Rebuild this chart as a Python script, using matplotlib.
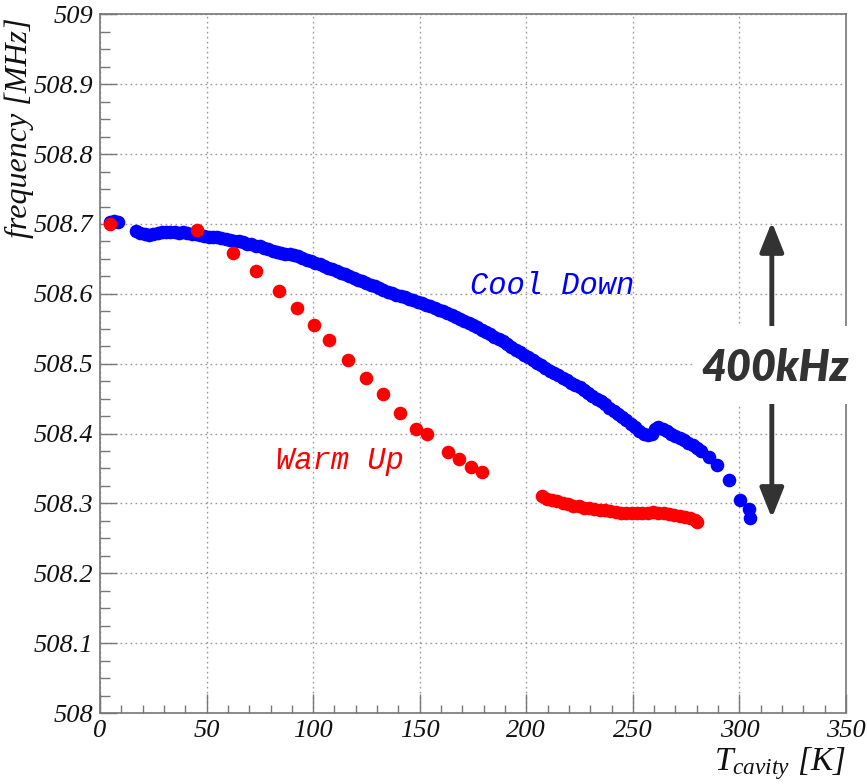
import matplotlib
matplotlib.use("Agg")
import matplotlib.pyplot as plt
from matplotlib.patches import Rectangle
from matplotlib.ticker import MultipleLocator

plt.rcParams['mathtext.fontset'] = 'custom'
plt.rcParams['mathtext.it'] = 'Liberation Serif:italic'
plt.rcParams['mathtext.rm'] = 'Liberation Serif:italic'

# ---- data ----
cool_T = [4.5, 6.5, 8.5, 17.0, 19.0, 21.0, 23.0, 25.0, 27.0, 29.0, 31.0, 33.0, 35.0, 37.0,
          39.0, 41.0, 43.0, 45.0, 47.0, 49.0, 51.0, 53.0, 55.0, 57.0, 59.0, 61.0, 63.0,
          65.0, 67.0, 69.0, 71.0, 73.0, 75.0, 77.0, 79.0, 81.0, 83.0, 85.0, 87.0, 89.0,
          91.0, 93.0, 95.0, 97.0, 99.0, 101.0, 103.0, 105.0, 107.0, 109.0, 111.0, 113.0,
          115.0, 117.0, 119.0, 121.0, 123.0, 125.0, 127.0, 129.0, 131.0, 133.0, 135.0,
          137.0, 139.0, 141.0, 143.0, 145.0, 147.0, 149.0, 151.0, 153.0, 155.0, 157.0,
          159.0, 161.0, 163.0, 165.0, 167.0, 169.0, 171.0, 173.0, 175.0, 177.0, 179.0,
          181.0, 183.0, 185.0, 187.0, 189.0, 191.0, 193.0, 195.0, 197.0, 199.0, 201.0,
          203.0, 205.0, 207.0, 209.0, 211.0, 213.0, 215.0, 217.0, 219.0, 221.0, 223.0,
          225.0, 227.0, 229.0, 231.0, 233.0, 235.0, 237.0, 239.0, 241.0, 243.0, 245.0,
          247.0, 249.0, 251.0, 253.0, 255.0, 257.0, 259.0, 260.5, 262.0, 264.0, 266.0,
          268.0, 270.0, 272.0, 274.0, 276.0, 278.0, 280.0, 282.0, 285.5, 289.5, 295.0,
          300.5, 304.5, 305.0]
cool_f = [508.703, 508.704, 508.703, 508.690, 508.687, 508.685, 508.684, 508.686, 508.687,
          508.688, 508.689, 508.689, 508.688, 508.687, 508.688, 508.687, 508.686, 508.685,
          508.684, 508.683, 508.682, 508.682, 508.681, 508.680, 508.679, 508.677, 508.676,
          508.675, 508.674, 508.672, 508.671, 508.669, 508.668, 508.666, 508.664, 508.662,
          508.660, 508.658, 508.657, 508.657, 508.656, 508.654, 508.651, 508.649, 508.647,
          508.644, 508.642, 508.640, 508.637, 508.635, 508.633, 508.630, 508.628, 508.625,
          508.622, 508.620, 508.618, 508.615, 508.613, 508.611, 508.608, 508.605, 508.603,
          508.601, 508.599, 508.597, 508.595, 508.593, 508.591, 508.589, 508.587, 508.584,
          508.582, 508.580, 508.577, 508.575, 508.572, 508.569, 508.567, 508.564, 508.561,
          508.558, 508.555, 508.552, 508.548, 508.545, 508.542, 508.538, 508.535, 508.532,
          508.528, 508.524, 508.520, 508.517, 508.513, 508.509, 508.505, 508.501, 508.498,
          508.494, 508.490, 508.487, 508.484, 508.480, 508.477, 508.473, 508.469, 508.466,
          508.462, 508.458, 508.454, 508.450, 508.446, 508.442, 508.437, 508.433, 508.428,
          508.424, 508.419, 508.414, 508.409, 508.404, 508.400, 508.398, 508.399, 508.406,
          508.409, 508.406, 508.403, 508.400, 508.397, 508.394, 508.391, 508.387, 508.383,
          508.379, 508.375, 508.366, 508.355, 508.333, 508.305, 508.292, 508.279]

warm_T = [4.7, 45.4, 62.6, 73.2, 84.1, 92.3, 100.4, 107.6, 116.5, 124.8, 132.7, 140.8,
          148.3, 153.3, 163.4, 168.6, 174.0, 179.1,
          207.3, 209.5, 212.0, 214.5, 217.0, 219.5, 222.0, 224.5, 227.0, 229.5, 232.0,
          234.5, 237.0, 239.5, 242.0, 244.5, 247.0, 249.5, 252.0, 254.5, 257.0, 259.5,
          262.0, 264.5, 267.0, 269.5, 272.0, 274.5, 277.0, 279.0, 280.0]
warm_f = [508.700, 508.692, 508.659, 508.632, 508.604, 508.580, 508.556, 508.534, 508.505,
          508.480, 508.456, 508.430, 508.407, 508.399, 508.374, 508.363, 508.352, 508.345,
          508.310, 508.307, 508.305, 508.303, 508.301, 508.299, 508.297, 508.296, 508.294,
          508.293, 508.292, 508.291, 508.290, 508.289, 508.288, 508.287, 508.287, 508.286,
          508.286, 508.286, 508.287, 508.288, 508.287, 508.286, 508.285, 508.284, 508.282,
          508.281, 508.279, 508.276, 508.274]

x_ticks = [0, 50, 100, 150, 200, 250, 300, 350]
y_ticks = [508.0, 508.1, 508.2, 508.3, 508.4, 508.5, 508.6, 508.7, 508.8, 508.9, 509.0]
y_tick_labels = ['508', '508.1', '508.2', '508.3', '508.4', '508.5', '508.6', '508.7',
                 '508.8', '508.9', '509']

span_arrow_T = 315.2
span_top, span_bot = 508.703, 508.279
span_gap_lo, span_gap_hi = 508.443, 508.554

# ---- figure ----
fig = plt.figure(figsize=(8.67, 7.84), dpi=100)
ax = fig.add_axes([100 / 867, 1 - 713 / 784, 746 / 867, (713 - 14.4) / 784])

ax.plot(cool_T, cool_f, 'o', color='#0000ff', markersize=9.8, markeredgewidth=0, zorder=3)
ax.plot(warm_T, warm_f, 'o', color='#ff0000', markersize=9.8, markeredgewidth=0, zorder=4)

ax.set_xlim(0, 350)
ax.set_ylim(508, 509)
ax.set_xticks(x_ticks)
ax.set_xticklabels([str(v) for v in x_ticks])
ax.set_yticks(y_ticks)
ax.set_yticklabels(y_tick_labels)
ax.xaxis.set_minor_locator(MultipleLocator(10))
ax.yaxis.set_minor_locator(MultipleLocator(0.025))

for lab in ax.get_xticklabels() + ax.get_yticklabels():
    lab.set_fontfamily('Liberation Serif')
    lab.set_fontstyle('italic')
    lab.set_fontsize(19)
    lab.set_color('#111111')

ax.tick_params(axis='both', which='both', direction='in', color='#777777',
               top=False, right=False)
ax.tick_params(axis='x', which='major', length=14, width=1, pad=5)
ax.tick_params(axis='x', which='minor', length=6, width=1)
ax.tick_params(axis='y', which='major', length=12, width=1, pad=5)
ax.tick_params(axis='y', which='minor', length=7, width=1)

ax.grid(True, which='major', linestyle=(0, (1.2, 2.4)), color='#999999', linewidth=1.0)
ax.set_axisbelow(True)
for s in ax.spines.values():
    s.set_color('#777777')
    s.set_linewidth(1.2)

ax.set_ylabel('frequency [MHz]', fontfamily='Liberation Serif', fontstyle='italic',
              fontsize=23, color='#111111')
ax.yaxis.set_label_coords(-0.088, 0.995)
ax.yaxis.label.set_horizontalalignment('right')

ax.text(1.0, -0.046, r'$T_{cavity}$ [K]', transform=ax.transAxes, ha='right', va='top',
        fontfamily='Liberation Serif', fontstyle='italic', fontsize=24, color='#111111')

ax.text(212, 508.6, 'Cool Down', color='#0000ff', fontfamily='Liberation Mono',
        fontstyle='italic', fontsize=22, ha='center', va='baseline', zorder=6)
ax.text(112.7, 508.349, 'Warm Up', color='#ff0000', fontfamily='Liberation Mono',
        fontstyle='italic', fontsize=22, ha='center', va='baseline', zorder=6)

# span annotation
ax.annotate('', xy=(span_arrow_T, span_top), xytext=(span_arrow_T, span_gap_hi),
            arrowprops=dict(arrowstyle='-|>,head_length=1.0,head_width=0.4', lw=3.5,
                            color='#333333', mutation_scale=18, shrinkA=0, shrinkB=0),
            annotation_clip=False, zorder=7)
ax.annotate('', xy=(span_arrow_T, span_bot), xytext=(span_arrow_T, span_gap_lo),
            arrowprops=dict(arrowstyle='-|>,head_length=1.0,head_width=0.4', lw=3.5,
                            color='#333333', mutation_scale=18, shrinkA=0, shrinkB=0),
            annotation_clip=False, zorder=7)
ax.add_patch(Rectangle((279.0, span_gap_lo), 82, span_gap_hi - span_gap_lo,
                       facecolor='white', edgecolor='none', clip_on=False, zorder=8))
ax.text(span_arrow_T + 1.5, (span_gap_lo + span_gap_hi) / 2 - 0.005, '400kHz',
        fontfamily=['Lato', 'DejaVu Sans'], fontweight='heavy', fontstyle='italic',
        fontsize=31, color='#333333', ha='center', va='center', zorder=9, clip_on=False)

fig.savefig('out.png', dpi=100, facecolor='white')
